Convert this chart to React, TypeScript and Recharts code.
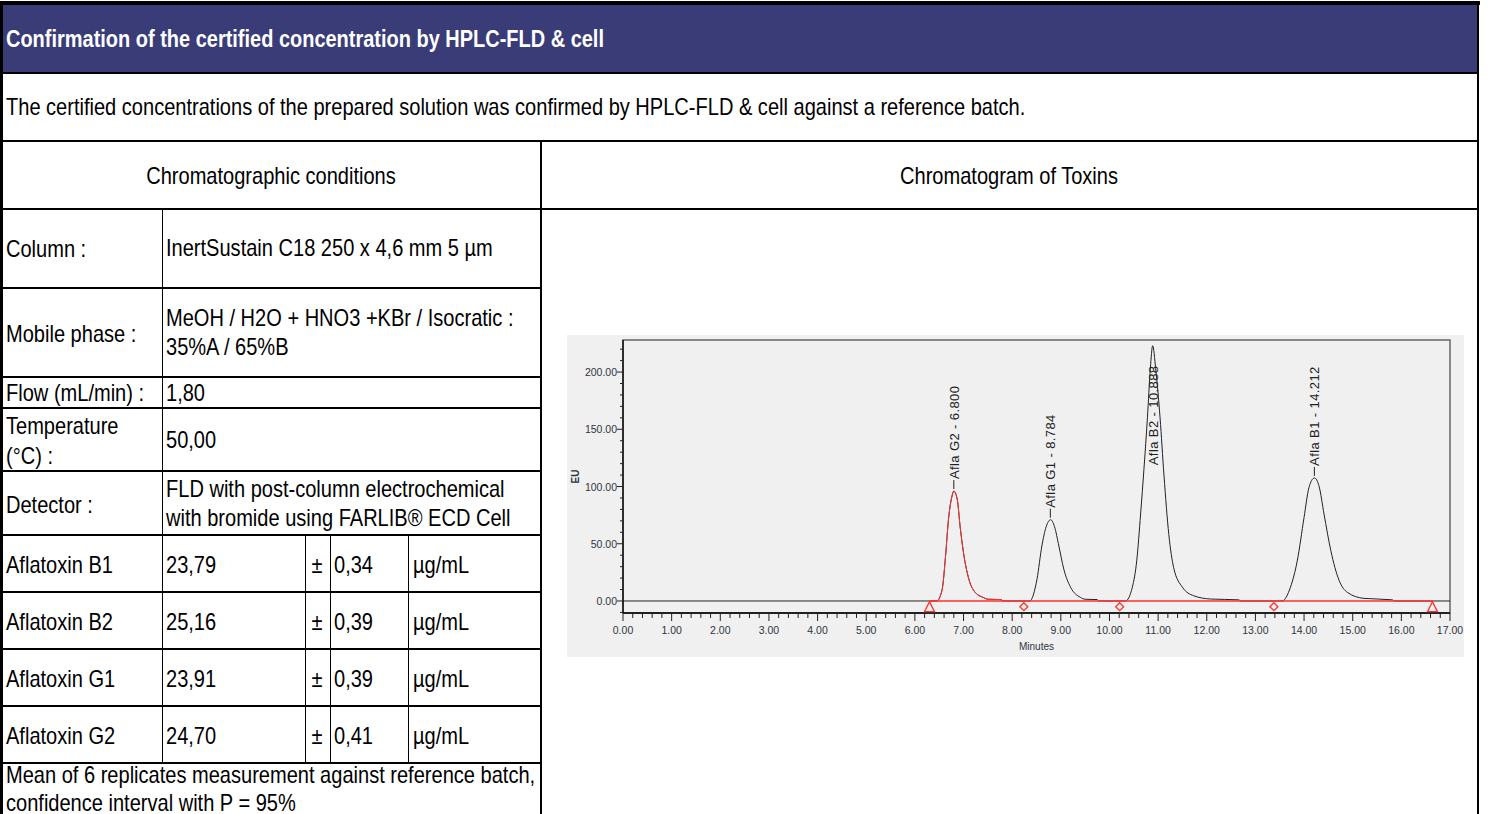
import React from 'react';
import { ComposedChart, Line, Scatter, XAxis, YAxis, ReferenceArea } from 'recharts';

// chromatogram trace, [minutes, EU]
const G2_PEAK = [[6.3, 0], [6.45, 0], [6.56, 10], [6.63, 39], [6.69, 71], [6.76, 91], [6.8, 96], [6.87, 89], [6.93, 65], [7.0, 42], [7.11, 19], [7.24, 7.5], [7.41, 3], [7.5, 1.5], [7.78, 1.2], [7.8, 0]];
const G1_PEAK = [[8.36, 0], [8.51, 19], [8.61, 48], [8.7, 65], [8.79, 71], [8.87, 65], [8.96, 48], [9.06, 28], [9.2, 12], [9.4, 3.2], [9.5, 1.5], [9.75, 1.2], [9.78, 0]];
const B2_PEAK = [[10.33, 0], [10.47, 12], [10.56, 35], [10.64, 76], [10.71, 116], [10.78, 160], [10.84, 203], [10.888, 223], [10.95, 203], [11.04, 160], [11.12, 110], [11.22, 58], [11.32, 29], [11.5, 12], [11.73, 4.6], [12.08, 1.7], [12.66, 1], [12.7, 0]];
const B1_PEAK = [[13.55, 0], [13.72, 12], [13.86, 35], [14.0, 73], [14.1, 99], [14.212, 107.5], [14.31, 100], [14.41, 76], [14.55, 44], [14.72, 18], [14.89, 7.5], [15.23, 2.3], [15.82, 1], [15.85, 0]];
const RUN_LIMITS = [0, 17];
const INTEGRATION_BASE = [6.3, 16.64];

const PEAK_NAMES = ['Afla G2 - 6.800', 'Afla G1 - 8.784', 'Afla B2 - 10.888', 'Afla B1 - 14.212'];
const PEAK_RT = [6.8, 8.784, 10.888, 14.212];
const PEAK_HEIGHT = [96, 71, 223, 107.5];

const MARK_RT = [6.3, 8.24, 10.21, 13.38, 16.64];
const MARK_KIND = ['tri', 'dia', 'dia', 'dia', 'tri'];

const X_MAJOR = [0, 1, 2, 3, 4, 5, 6, 7, 8, 9, 10, 11, 12, 13, 14, 15, 16, 17];
const Y_MAJOR = [0, 50, 100, 150, 200];
const X_MINOR_STEP = 0.2;
const Y_MINOR_STEP = 10;

// table texts
const TITLE = 'Confirmation of the certified concentration by HPLC-FLD & cell';
const INTRO = 'The certified concentrations of the prepared solution was confirmed by HPLC-FLD & cell against a reference batch.';
const LEFT_HEAD = 'Chromatographic conditions';
const RIGHT_HEAD = 'Chromatogram of Toxins';
const COND_LABELS = [['Column :'], ['Mobile phase :'], ['Flow (mL/min) :'], ['Temperature', '(°C) :'], ['Detector :']];
const COND_VALUES = [
  ['InertSustain C18 250 x 4,6 mm 5 µm'],
  ['MeOH / H2O + HNO3 +KBr / Isocratic :', '35%A / 65%B'],
  ['1,80'],
  ['50,00'],
  ['FLD with post-column electrochemical', 'with bromide using FARLIB® ECD Cell'],
];
const TOXINS = ['Aflatoxin B1', 'Aflatoxin B2', 'Aflatoxin G1', 'Aflatoxin G2'];
const CONC = ['23,79', '25,16', '23,91', '24,70'];
const UNCERT = ['0,34', '0,39', '0,39', '0,41'];
const UNIT = 'µg/mL';
const NOTE = ['Mean of 6 replicates measurement against reference batch,', 'confidence interval with P = 95%'];

const toPts = (arr: number[][]) => arr.map(([t, v]) => ({ t, v }));
const SIGNAL = toPts([[RUN_LIMITS[0], 0], ...G2_PEAK, ...G1_PEAK, ...B2_PEAK, ...B1_PEAK, [RUN_LIMITS[1], 0]]);
const G2_TRACE = toPts(G2_PEAK);
const BASE = INTEGRATION_BASE.map((t) => ({ t, v: 0 }));
const PEAKS = PEAK_NAMES.map((name, i) => ({ name, t: PEAK_RT[i], v: PEAK_HEIGHT[i] }));
const MARKS = MARK_RT.map((t, i) => ({ t, v: -5, kind: MARK_KIND[i] }));

const minors = (lo: number, hi: number, step: number) => {
  const out: number[] = [];
  for (let k = Math.ceil(lo / step); k * step <= hi + 1e-9; k++) out.push(Math.round(k * step * 1000) / 1000);
  return out;
};
const X_TICKS = minors(0, 17, X_MINOR_STEP);
const Y_TICKS = minors(-10, 220, Y_MINOR_STEP);

const RED = '#ff3030';
const AX_FONT = '"Liberation Sans", Arial, sans-serif';
const AX_TEXT = '#2e3440';
const PLOT_TOP = 5;

const XTick = (p: any) => {
  const v = p.payload.value;
  const major = X_MAJOR.some((m) => Math.abs(m - v) < 1e-6);
  return (
    <g>
      <line x1={p.x} x2={p.x} y1={p.y} y2={p.y + (major ? 8 : 5)} stroke="#222" strokeWidth={1} />
      {major && (
        <text x={p.x} y={p.y + 17} textAnchor="middle" dominantBaseline="central" fontSize={10.5} fill={AX_TEXT} fontFamily={AX_FONT}>
          {v.toFixed(2)}
        </text>
      )}
    </g>
  );
};

const YTick = (p: any) => {
  const v = p.payload.value;
  const major = Y_MAJOR.includes(v);
  return (
    <g>
      <line x1={p.x - (major ? 6 : 3)} x2={p.x} y1={p.y} y2={p.y} stroke="#222" strokeWidth={1} />
      {major && (
        <text x={p.x - 6} y={p.y} textAnchor="end" dominantBaseline="central" fontSize={10.5} fill={AX_TEXT} fontFamily={AX_FONT}>
          {v.toFixed(2)}
        </text>
      )}
    </g>
  );
};

const PeakLabel = (p: any) => {
  const { cx, cy, payload } = p;
  const len = payload.name.length * 6.7;
  let base = cy - 12;
  let tick = true;
  if (base - len < PLOT_TOP + 18) {
    base = PLOT_TOP + 18 + len;
    tick = false;
  }
  return (
    <g>
      {tick && <line x1={cx} x2={cx} y1={cy - 2} y2={cy - 11} stroke="#222" strokeWidth={1} />}
      <text transform={`translate(${cx + 5},${base}) rotate(-90)`} fontSize={13} fill="#222" fontFamily={AX_FONT} letterSpacing={0.4}>
        {payload.name}
      </text>
    </g>
  );
};

const Mark = (p: any) => {
  const { cx, cy, payload } = p;
  if (payload.kind === 'tri') {
    return <path d={`M${cx - 5},${cy + 5} L${cx},${cy - 5} L${cx + 5},${cy + 5} Z`} fill="none" stroke={RED} strokeWidth={1.3} />;
  }
  return <path d={`M${cx},${cy - 4} L${cx + 4},${cy} L${cx},${cy + 4} L${cx - 4},${cy} Z`} fill="none" stroke={RED} strokeWidth={1.3} />;
};

const EuLabel = (p: any) => {
  const vb = p.viewBox || {};
  const cy = (vb.y ?? PLOT_TOP) + (vb.height ?? 273) / 2;
  return (
    <text transform={`translate(12,${cy}) rotate(-90)`} textAnchor="middle" fontSize={10} fontWeight={700} fill={AX_TEXT} fontFamily={AX_FONT}>
      EU
    </text>
  );
};

const Chromatogram = () => (
  <ComposedChart width={897} height={322} margin={{ top: PLOT_TOP, right: 14, left: 0, bottom: 0 }}>
    <XAxis
      type="number"
      dataKey="t"
      domain={[0, 17]}
      ticks={X_TICKS}
      interval={0}
      tickSize={0}
      tickMargin={0}
      tickLine={false}
      allowDataOverflow
      axisLine={{ stroke: '#222', strokeWidth: 2 }}
      tick={(p: any) => <XTick {...p} />}
      height={44}
      label={{ value: 'Minutes', position: 'insideBottom', offset: 7, fontSize: 10, fill: AX_TEXT, fontFamily: AX_FONT }}
    />
    <YAxis
      type="number"
      dataKey="v"
      domain={[-10.5, 228]}
      ticks={Y_TICKS}
      interval={0}
      tickSize={0}
      tickMargin={0}
      tickLine={false}
      allowDataOverflow
      axisLine={{ stroke: '#111', strokeWidth: 1.5 }}
      tick={(p: any) => <YTick {...p} />}
      width={56}
      label={(p: any) => <EuLabel {...p} />}
    />
    <ReferenceArea x1={0} x2={17} y1={-10.5} y2={228} fill="none" stroke="#666" strokeWidth={1.5} />
    <Line data={SIGNAL} dataKey="v" type="monotone" stroke="#222" strokeWidth={1} dot={false} isAnimationActive={false} />
    <Line data={BASE} dataKey="v" type="linear" stroke={RED} strokeWidth={1.5} dot={false} isAnimationActive={false} />
    <Line data={G2_TRACE} dataKey="v" type="monotone" stroke={RED} strokeWidth={1} dot={false} isAnimationActive={false} />
    <Scatter data={MARKS} dataKey="v" shape={(p: any) => <Mark {...p} />} isAnimationActive={false} />
    <Scatter data={PEAKS} dataKey="v" shape={(p: any) => <PeakLabel {...p} />} isAnimationActive={false} />
  </ComposedChart>
);

const HL = ({ x1, x2, y, w = 1.5 }: any) => (
  <div style={{ position: 'absolute', left: x1, top: y - w / 2, width: x2 - x1, height: w, background: '#000' }} />
);
const VL = ({ x, y1, y2, w = 1.5 }: any) => (
  <div style={{ position: 'absolute', left: x - w / 2, top: y1, width: w, height: y2 - y1, background: '#000' }} />
);
// narrow text: Arial-metric font squeezed horizontally, as no Arial Narrow is installed
const SQUEEZE = 0.835;
const SQUEEZE_BOLD = 0.832;
const T = ({ x, y, children, center, bold, color = '#000' }: any) => (
  <div
    style={{
      position: 'absolute',
      left: x,
      top: y,
      transformOrigin: center ? 'center center' : 'left center',
      transform: `translate(${center ? '-50%' : '0'}, -50%) scaleX(${bold ? SQUEEZE_BOLD : SQUEEZE})`,
      whiteSpace: 'nowrap',
      fontSize: 24,
      lineHeight: 1,
      fontWeight: bold ? 700 : 400,
      color,
    }}
  >
    {children}
  </div>
);

const COND_ROWS = [209, 288, 377, 408, 471, 535];
const RES_ROWS = [535, 592, 649, 706, 763];
const LABEL_LINES = [[249], [334], [393], [426, 456], [505]];
const VALUE_LINES = [[248], [318, 347], [393], [440], [489, 518]];

export default function App() {
  return (
    <div
      style={{
        position: 'absolute',
        left: 0,
        top: 0,
        width: 1491,
        height: 814,
        overflow: 'hidden',
        background: '#fff',
        fontFamily: '"Liberation Sans", Arial, sans-serif',
      }}
    >
      <div style={{ position: 'absolute', left: 0, top: 1, width: 1480, height: 4, background: '#000' }} />
      <div style={{ position: 'absolute', left: 3, top: 5, width: 1475, height: 67, background: '#3a3c78' }} />
      <T x={6} y={39} bold color="#fff">{TITLE}</T>
      <T x={6} y={107}>{INTRO}</T>
      <T x={271} y={176} center>{LEFT_HEAD}</T>
      <T x={1009} y={176} center>{RIGHT_HEAD}</T>

      {COND_LABELS.map((lines, i) =>
        lines.map((s, j) => <T key={`l${i}${j}`} x={6} y={LABEL_LINES[i][j]}>{s}</T>)
      )}
      {COND_VALUES.map((lines, i) =>
        lines.map((s, j) => <T key={`v${i}${j}`} x={166} y={VALUE_LINES[i][j]}>{s}</T>)
      )}
      {TOXINS.map((name, i) => {
        const y = (RES_ROWS[i] + RES_ROWS[i + 1]) / 2 + 1;
        return (
          <React.Fragment key={name}>
            <T x={6} y={y}>{name}</T>
            <T x={166} y={y}>{CONC[i]}</T>
            <T x={317} y={y} center>±</T>
            <T x={334} y={y}>{UNCERT[i]}</T>
            <T x={413} y={y}>{UNIT}</T>
          </React.Fragment>
        );
      })}
      <T x={6} y={775}>{NOTE[0]}</T>
      <T x={6} y={803}>{NOTE[1]}</T>

      {/* grid */}
      <HL x1={2} x2={1479} y={73} w={2} />
      <HL x1={2} x2={1479} y={141} />
      <HL x1={2} x2={1479} y={209} />
      {COND_ROWS.slice(1).map((y) => <HL key={`c${y}`} x1={2} x2={541} y={y} />)}
      {RES_ROWS.slice(1).map((y) => <HL key={`r${y}`} x1={2} x2={541} y={y} />)}
      <VL x={1.5} y1={1} y2={814} w={3} />
      <VL x={1478} y1={1} y2={814} w={2} />
      <VL x={541} y1={141} y2={814} />
      <VL x={162} y1={209} y2={763} w={1} />
      <VL x={305} y1={535} y2={763} w={1} />
      <VL x={330} y1={535} y2={763} w={1} />
      <VL x={408} y1={535} y2={763} w={1} />

      <div style={{ position: 'absolute', left: 567, top: 335, width: 897, height: 322, background: '#f0f0f0' }}>
        <Chromatogram />
      </div>
    </div>
  );
}
